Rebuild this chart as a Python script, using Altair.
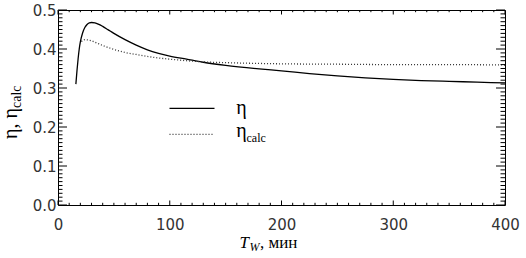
import altair as alt
import pandas as pd

# ---- data ----
x_eta = [16, 17, 18, 19, 20, 22, 24, 26, 28, 30, 33, 36, 40, 45, 50, 60, 70, 80, 90,
         100, 115, 130, 150, 180, 200, 225, 250, 275, 300, 325, 350, 375, 400]
eta = [0.310, 0.345, 0.375, 0.400, 0.418, 0.441, 0.455, 0.463, 0.467, 0.468, 0.467,
       0.464, 0.458, 0.449, 0.440, 0.424, 0.410, 0.398, 0.389, 0.382, 0.374, 0.366,
       0.358, 0.349, 0.344, 0.337, 0.331, 0.326, 0.322, 0.319, 0.317, 0.315, 0.313]

x_calc = [21, 22, 24, 27, 30, 35, 40, 50, 60, 70, 80, 90, 100, 115, 130, 150, 180,
          200, 250, 300, 350, 400]
eta_calc = [0.419, 0.422, 0.424, 0.423, 0.421, 0.415, 0.409, 0.399, 0.391, 0.386,
            0.381, 0.377, 0.374, 0.370, 0.367, 0.365, 0.363, 0.362, 0.361, 0.360,
            0.360, 0.359]

x_major = [0, 100, 200, 300, 400]
x_minor = [v for v in range(0, 401, 10) if v % 100 != 0]
y_major = [0.0, 0.1, 0.2, 0.3, 0.4, 0.5]
y_minor = [i / 100 for i in range(0, 51) if i % 10 != 0]

legend_names = ["η", "η"]
legend_sub = ["", "calc"]

W, H = 447, 195
SANS = "DejaVu Sans"
SERIF = "Liberation Serif"

df_eta = pd.DataFrame({"x": x_eta, "y": eta})
df_calc = pd.DataFrame({"x": x_calc, "y": eta_calc})

xs = alt.Scale(domain=[0, 400], nice=False, zero=False)
ys = alt.Scale(domain=[0, 0.5], nice=False, zero=False)

xaxis = alt.Axis(values=x_major, ticks=False, domain=False, grid=False,
                 labelFont=SANS, labelFontSize=15, labelColor="#333",
                 labelPadding=12, title=None, format="d",
                 labelOverlap=False, labelBound=False, labelFlush=False)
yaxis = alt.Axis(values=y_major, ticks=False, domain=False, grid=False,
                 labelFont=SANS, labelFontSize=15, labelColor="#333",
                 labelPadding=2, title=None, format=".1f",
                 labelOverlap=False, labelBound=False, labelFlush=False)

line_eta = alt.Chart(df_eta).mark_line(color="black", strokeWidth=1.3,
                                       interpolate="monotone").encode(
    x=alt.X("x:Q", scale=xs, axis=xaxis),
    y=alt.Y("y:Q", scale=ys, axis=yaxis),
)
line_calc = alt.Chart(df_calc).mark_line(color="#333", strokeWidth=1.3,
                                         strokeDash=[1, 2],
                                         interpolate="monotone").encode(
    x=alt.X("x:Q", scale=xs, axis=xaxis),
    y=alt.Y("y:Q", scale=ys, axis=yaxis),
)

# ---- inward ticks on all four sides ----
def xticks(vals, length):
    d = pd.DataFrame({"x": vals})
    bottom = alt.Chart(d).mark_rule(color="black", strokeWidth=1).encode(
        x=alt.X("x:Q", scale=xs, axis=xaxis), y=alt.value(H), y2=alt.value(H - length))
    top = alt.Chart(d).mark_rule(color="black", strokeWidth=1).encode(
        x=alt.X("x:Q", scale=xs, axis=xaxis), y=alt.value(0), y2=alt.value(length))
    return [bottom, top]

def yticks(vals, length):
    d = pd.DataFrame({"y": vals})
    left = alt.Chart(d).mark_rule(color="black", strokeWidth=1).encode(
        y=alt.Y("y:Q", scale=ys, axis=yaxis), x=alt.value(0), x2=alt.value(length))
    right = alt.Chart(d).mark_rule(color="black", strokeWidth=1).encode(
        y=alt.Y("y:Q", scale=ys, axis=yaxis), x=alt.value(W), x2=alt.value(W - length))
    return [left, right]

ticks = xticks(x_major, 4.5) + xticks(x_minor, 2.2) + yticks(y_major, 9) + yticks(y_minor, 4.5)

one = pd.DataFrame({"a": [0]})

def txt(s, x, y, size, font=SERIF, style="normal", align="left", angle=0, dy=0):
    return alt.Chart(one).mark_text(
        text=s, font=font, fontSize=size, fontStyle=style, align=align,
        baseline="alphabetic", angle=angle, dy=dy, color="black"
    ).encode(x=alt.value(x), y=alt.value(y))

# ---- legend ----
leg_solid = alt.Chart(one).mark_rule(color="black", strokeWidth=1.2).encode(
    x=alt.value(111.5), x2=alt.value(156.5), y=alt.value(98.3))
leg_dot = alt.Chart(one).mark_rule(color="#333", strokeWidth=1.3, strokeDash=[1, 2]).encode(
    x=alt.value(111.5), x2=alt.value(156.5), y=alt.value(124.3))
leg_t1 = txt(legend_names[0], 178.2, 104, 20)
leg_t2 = txt(legend_names[1], 178.2, 127, 20)
leg_t2s = txt(legend_sub[1], 188.5, 131.7, 12)

# ---- axis titles ----
xt_T = txt("T", 191, 237.5, 17, style="italic", align="right")
xt_W = txt("W", 191.5, 240.5, 12, style="italic")
xt_rest = txt(", мин", 202, 237.5, 17)

yt_main = txt("η, η", -41, 98, 20, align="right", angle=270)
yt_sub = txt("calc", -41, 98, 14, align="left", angle=270, dy=4)

chart = alt.layer(
    line_eta, line_calc, *ticks,
    leg_solid, leg_dot, leg_t1, leg_t2, leg_t2s,
    xt_T, xt_W, xt_rest, yt_main, yt_sub,
).properties(
    width=W, height=H,
    autosize=alt.AutoSizeParams(type="none"),
    padding={"left": 58, "top": 10, "right": 21, "bottom": 53},
    background="white",
).configure_view(stroke="black", strokeWidth=1)

chart.save("out.html", embed_options={"renderer": "svg", "actions": False})
